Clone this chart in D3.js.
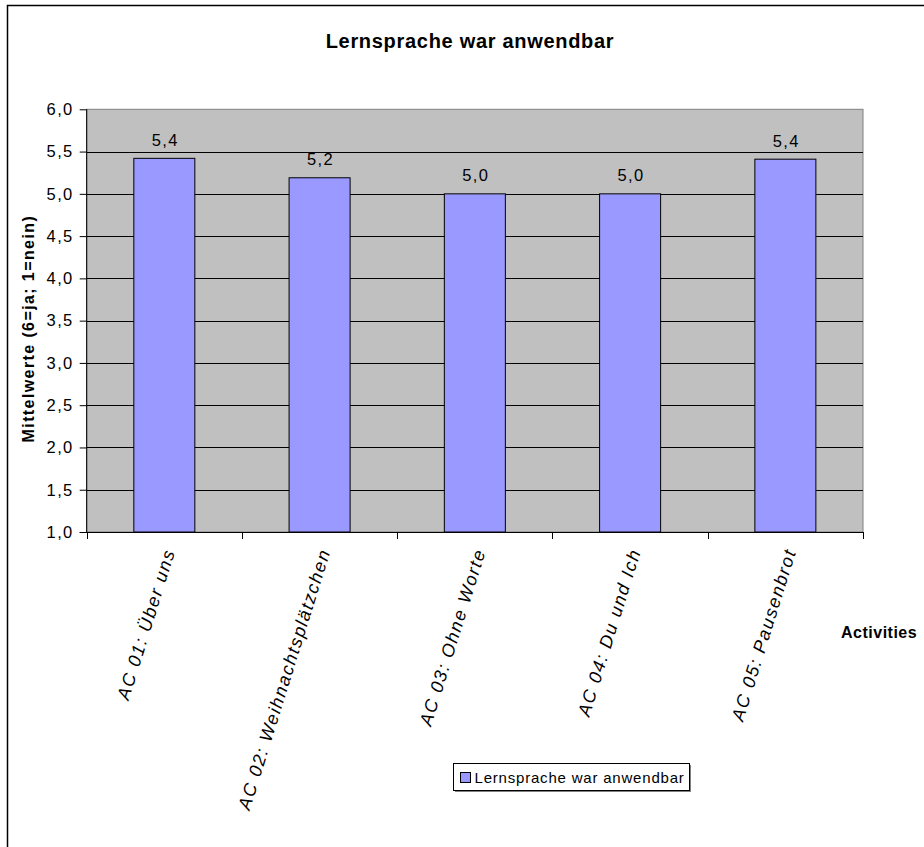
<!DOCTYPE html>
<html>
<head>
<meta charset="utf-8">
<script src="https://cdn.jsdelivr.net/npm/d3@7"></script>
<style>
  body { margin: 0; background: #fff; }
  svg { display: block; font-family: "Liberation Sans", Arial, sans-serif; }
</style>
</head>
<body>
<svg width="924" height="847"></svg>
<script>
// Chart data
const categories = [
    'AC 01:  Über uns',
    'AC 02: Weihnachtsplätzchen',
    'AC 03: Ohne Worte',
    'AC 04: Du und Ich',
    'AC 05: Pausenbrot'
];
const values = [5.42, 5.19, 5.0, 5.0, 5.41];
const yTicks = [1.0, 1.5, 2.0, 2.5, 3.0, 3.5, 4.0, 4.5, 5.0, 5.5, 6.0];
const seriesName = 'Lernsprache war anwendbar';

const svg = d3.select('svg');

// Plot area position
const plot = { left: 86.7, right: 863, top: 109.3, bottom: 532 };

// Outer chart frame (runs past right and bottom edge)
svg.append('rect')
    .attr('x', 7.5).attr('y', 5.5)
    .attr('width', 940).attr('height', 860)
    .attr('fill', '#fff')
    .attr('stroke', '#000')
    .attr('stroke-width', 1.5);

const xScale = d3.scaleBand()
    .domain(categories)
    .range([plot.left, plot.right])
    .padding(0);

const yScale = d3.scaleLinear()
    .domain([1, 6])
    .range([plot.bottom, plot.top]);

const fmt = d => d.toFixed(1).replace('.', ',');

// Plot background
svg.append('rect')
    .attr('x', plot.left).attr('y', plot.top)
    .attr('width', plot.right - plot.left)
    .attr('height', plot.bottom - plot.top)
    .attr('fill', '#c0c0c0')
    .attr('stroke', '#808080')
    .attr('stroke-width', 1);

// Gridlines
svg.append('g')
    .selectAll('line')
    .data(yTicks.filter(t => t > 1 && t < 6))
    .enter()
    .append('line')
    .attr('x1', plot.left).attr('x2', plot.right)
    .attr('y1', d => Math.round(yScale(d)) + 0.5)
    .attr('y2', d => Math.round(yScale(d)) + 0.5)
    .attr('stroke', '#000')
    .attr('stroke-width', 1);

// Bars
const barW = xScale.bandwidth() * 0.393;
svg.append('g')
    .selectAll('rect')
    .data(values)
    .enter()
    .append('rect')
    .attr('x', (d, i) => xScale(categories[i]) + (xScale.bandwidth() - barW) / 2)
    .attr('y', d => yScale(d))
    .attr('width', barW)
    .attr('height', d => plot.bottom - yScale(d))
    .attr('fill', '#9999ff')
    .attr('stroke', '#000')
    .attr('stroke-width', 1);

// Value labels
svg.append('g')
    .selectAll('text')
    .data(values)
    .enter()
    .append('text')
    .attr('x', (d, i) => xScale(categories[i]) + xScale.bandwidth() / 2 + 1)
    .attr('y', d => yScale(d) - 12.5)
    .attr('text-anchor', 'middle')
    .attr('font-size', 16.5)
    .attr('letter-spacing', 1.4)
    .text(d => fmt(d));

// Y axis
const yAxisGroup = svg.append('g')
    .attr('transform', `translate(${plot.left},0)`)
    .call(d3.axisLeft(yScale).tickValues(yTicks).tickFormat(fmt).tickSize(7).tickPadding(6));
yAxisGroup.select('.domain').attr('stroke', '#000').attr('d', `M0,${plot.top}V${plot.bottom}`);
yAxisGroup.selectAll('.tick text')
    .attr('font-size', 16.5)
    .attr('font-family', '"Liberation Sans", Arial, sans-serif')
    .attr('letter-spacing', 1.4)
    .attr('fill', '#000');

// X axis line and ticks at category boundaries
const xAxisGroup = svg.append('g');
xAxisGroup.append('line')
    .attr('x1', plot.left - 7).attr('x2', plot.right)
    .attr('y1', plot.bottom + 0.5).attr('y2', plot.bottom + 0.5)
    .attr('stroke', '#000');
const boundaries = categories.map(c => xScale(c)).concat([plot.right]);
xAxisGroup.selectAll('.xtick')
    .data(boundaries)
    .enter()
    .append('line')
    .attr('class', 'xtick')
    .attr('x1', d => Math.round(d) + 0.5).attr('x2', d => Math.round(d) + 0.5)
    .attr('y1', plot.bottom).attr('y2', plot.bottom + 7)
    .attr('stroke', '#000');

// Rotated category labels
xAxisGroup.selectAll('.xlabel')
    .data(categories)
    .enter()
    .append('text')
    .attr('class', 'xlabel')
    .attr('transform', d => `translate(${xScale(d) + xScale.bandwidth() / 2 + 11},551) rotate(-72.7)`)
    .attr('text-anchor', 'end')
    .attr('font-size', 18)
    .attr('font-style', 'italic')
    .attr('letter-spacing', 1.6)
    .text(d => d);

// Title
svg.append('text')
    .attr('x', 470)
    .attr('y', 48)
    .attr('text-anchor', 'middle')
    .attr('font-size', 20)
    .attr('font-weight', 'bold')
    .attr('letter-spacing', 0.7)
    .text('Lernsprache war anwendbar');

// Y axis title
svg.append('text')
    .attr('transform', `translate(34,${(plot.top + plot.bottom) / 2 + 8}) rotate(-90)`)
    .attr('text-anchor', 'middle')
    .attr('font-size', 16)
    .attr('font-weight', 'bold')
    .attr('letter-spacing', 1.4)
    .text('Mittelwerte (6=ja; 1=nein)');

// X axis title (kept inside the window)
svg.append('text')
    .attr('x', 841)
    .attr('y', 638)
    .attr('font-size', 16)
    .attr('font-weight', 'bold')
    .attr('letter-spacing', 0.5)
    .text('Activities');

// Legend
const legend = svg.append('g').attr('transform', 'translate(453.5,763.5)');
legend.append('rect')
    .attr('x', 1.5).attr('y', 1.5)
    .attr('width', 236).attr('height', 27)
    .attr('fill', '#808080');
legend.append('rect')
    .attr('width', 236).attr('height', 27)
    .attr('fill', '#fff')
    .attr('stroke', '#000');
legend.append('rect')
    .attr('x', 7).attr('y', 9)
    .attr('width', 10).attr('height', 10)
    .attr('fill', '#9999ff')
    .attr('stroke', '#000');
legend.append('text')
    .attr('x', 21).attr('y', 19)
    .attr('font-size', 15)
    .attr('letter-spacing', 0.8)
    .text(seriesName);
</script>
</body>
</html>
